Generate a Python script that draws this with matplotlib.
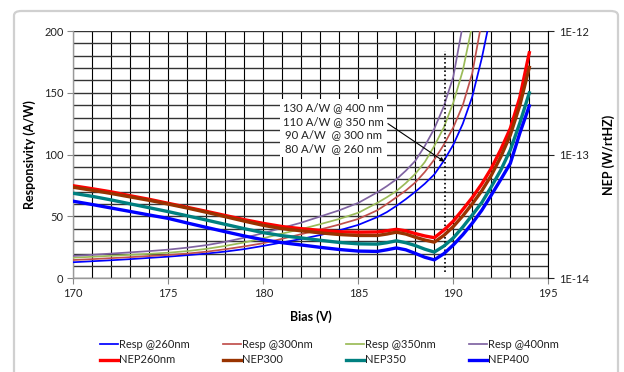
import matplotlib
matplotlib.use("Agg")
import matplotlib.pyplot as plt
from matplotlib.patches import FancyBboxPatch
from matplotlib.ticker import NullLocator, FixedLocator

plt.rcParams['font.family'] = ['Lato', 'DejaVu Sans']

# ---------------- data ----------------
bias_resp260 = [170, 171, 172, 173, 174, 175, 176, 177, 178, 179, 180, 181, 182, 183, 184, 185, 186, 186.5, 187, 187.5, 188, 188.5, 189, 189.5, 190, 190.5, 191, 191.5, 192]
resp260 = [13.0, 13.8, 14.6, 15.5, 16.5, 17.5, 18.7, 20.0, 21.6, 23.6, 26.2, 29.0, 31.8, 35.0, 38.8, 43.2, 49.5, 53.5, 58.5, 64.0, 70.0, 76.5, 84.0, 95.0, 108.0, 125.0, 147.0, 178.0, 215.0]

bias_resp300 = [170, 171, 172, 173, 174, 175, 176, 177, 178, 179, 180, 181, 182, 183, 184, 185, 186, 186.5, 187, 187.5, 188, 188.5, 189, 189.5, 190, 190.5, 191, 191.5]
resp300 = [14.8, 15.5, 16.3, 17.1, 18.0, 18.9, 20.0, 21.5, 23.5, 25.8, 28.4, 32.0, 35.7, 39.5, 43.5, 48.0, 55.0, 60.0, 65.5, 71.0, 77.5, 86.0, 96.0, 108.0, 122.0, 140.0, 166.0, 208.0]

bias_resp350 = [170, 171, 172, 173, 174, 175, 176, 177, 178, 179, 180, 181, 182, 183, 184, 185, 186, 186.5, 187, 187.5, 188, 188.5, 189, 189.5, 190, 190.5, 191]
resp350 = [16.7, 17.4, 18.2, 19.0, 19.8, 20.7, 22.0, 23.8, 26.2, 29.0, 32.4, 36.2, 39.8, 43.8, 48.0, 53.0, 61.0, 65.5, 70.5, 77.0, 84.5, 94.0, 107.0, 122.0, 142.0, 168.0, 205.0]

bias_resp400 = [170, 171, 172, 173, 174, 175, 176, 177, 178, 179, 180, 181, 182, 183, 184, 185, 186, 186.5, 187, 187.5, 188, 188.5, 189, 189.5, 190, 190.5]
resp400 = [18.1, 19.0, 20.0, 21.0, 22.0, 23.2, 24.8, 26.8, 29.5, 32.8, 36.5, 40.8, 45.0, 50.0, 55.0, 61.0, 69.5, 74.5, 80.0, 87.0, 95.0, 107.0, 121.0, 139.0, 163.0, 205.0]

bias_nep = [170, 171, 172, 173, 174, 175, 176, 177, 178, 179, 180, 181, 182, 183, 184, 185, 186, 186.5, 187, 187.5, 188, 188.5, 189, 189.5, 190, 190.5, 191, 191.5, 192, 192.5, 193, 193.5, 194]
nep260 = [5.6, 5.3, 5.0, 4.65, 4.35, 4.04, 3.75, 3.48, 3.22, 2.98, 2.78, 2.62, 2.52, 2.44, 2.38, 2.36, 2.37, 2.42, 2.49, 2.42, 2.30, 2.20, 2.13, 2.45, 2.9, 3.6, 4.5, 5.8, 7.75, 11.0, 16.3, 29.0, 66.7]
nep300 = [5.45, 5.15, 4.85, 4.55, 4.27, 3.98, 3.7, 3.42, 3.15, 2.9, 2.68, 2.52, 2.42, 2.33, 2.26, 2.22, 2.22, 2.28, 2.36, 2.28, 2.15, 2.04, 1.96, 2.22, 2.62, 3.2, 4.0, 5.1, 6.8, 9.6, 14.4, 25.0, 50.8]
nep350 = [4.87, 4.6, 4.3, 4.0, 3.72, 3.46, 3.2, 2.96, 2.73, 2.52, 2.34, 2.21, 2.12, 2.03, 1.95, 1.9, 1.89, 1.94, 2.01, 1.94, 1.84, 1.72, 1.63, 1.82, 2.12, 2.6, 3.25, 4.1, 5.5, 7.5, 10.9, 18.0, 31.6]
nep400 = [4.2, 3.95, 3.7, 3.47, 3.25, 3.05, 2.8, 2.58, 2.38, 2.2, 2.05, 1.94, 1.86, 1.78, 1.71, 1.66, 1.65, 1.70, 1.76, 1.70, 1.59, 1.48, 1.41, 1.58, 1.86, 2.25, 2.79, 3.55, 4.71, 6.3, 8.5, 14.9, 24.8]
nep_unit = 1e-14

resp_labels = ['Resp @260nm', 'Resp @300nm', 'Resp @350nm', 'Resp @400nm']
nep_labels = ['NEP260nm', 'NEP300', 'NEP350', 'NEP400']
resp_colors = ['#0000FF', '#C0504D', '#9BBB59', '#8064A2']
nep_colors = ['#FF0000', '#993300', '#008080', '#0000FF']

note_lines = ['130 A/W @ 400 nm', '110 A/W @ 350 nm', '90 A/W  @ 300 nm', '80 A/W  @ 260 nm']
note_pos = (183.7, 121.5)
marker_bias = 189.56
marker_range = [5.4, 183.8]
arrow_from = (186.56, 125.1)
arrow_to = (189.53, 94.3)

x_ticks = [170, 175, 180, 185, 190, 195]
y_ticks = [0, 50, 100, 150, 200]
nep_ticks = [1e-14, 1e-13, 1e-12]
nep_tick_labels = ['1E-14', '1E-13', '1E-12']

# ---------------- figure ----------------
W, H = 624, 372
fig = plt.figure(figsize=(W / 100, H / 100), dpi=100)
fig.patch.set_facecolor('white')

frame = FancyBboxPatch((14 / W, -0.05), (618 - 14) / W, 1 - 11 / H + 0.05,
                       boxstyle='round,pad=0,rounding_size=0.012',
                       transform=fig.transFigure, fill=False,
                       edgecolor='#D0D0D0', lw=1.6)
fig.patches.append(frame)

x0, x1 = 73.3, 548.3
y0, y1 = 31.0, 278.3
ax = fig.add_axes([x0 / W, 1 - y1 / H, (x1 - x0) / W, (y1 - y0) / H])
ax.set_xlim(170, 195)
ax.set_ylim(0, 200)
ax.set_xticks(x_ticks)
ax.xaxis.set_minor_locator(FixedLocator(list(range(170, 196))))
ax.set_yticks(y_ticks)
ax.yaxis.set_minor_locator(FixedLocator(list(range(0, 201, 10))))
ax.grid(which='both', axis='x', color='black', lw=0.8)
ax.grid(which='both', axis='y', color='#333333', lw=1.0)
ax.set_axisbelow(True)
ax.tick_params(which='major', direction='out', length=4, color='#888888',
               labelsize=8, labelcolor='#222222', pad=3)
ax.tick_params(which='minor', length=0)
for s in ['top', 'right']:
    ax.spines[s].set_visible(False)
for s in ['left', 'bottom']:
    ax.spines[s].set_color('#999999')
    ax.spines[s].set_linewidth(1.0)

resp_sets = [(bias_resp260, resp260), (bias_resp300, resp300),
             (bias_resp350, resp350), (bias_resp400, resp400)]
handles = []
for (bx, ry), c, lab in zip(resp_sets, resp_colors, resp_labels):
    h, = ax.plot(bx, ry, color=c, lw=1.25, label=lab, zorder=3)
    handles.append(h)

ax.plot([marker_bias, marker_bias], marker_range, color='black', lw=1.2,
        linestyle=(0, (1, 1.5)), zorder=3)

ax.text(note_pos[0], note_pos[1], '\n'.join(note_lines), fontsize=8.2, color='#222222',
        ha='center', va='center', linespacing=1.28, zorder=4,
        bbox=dict(boxstyle='square,pad=0.3', facecolor='white', edgecolor='none'))
ax.annotate('', xy=arrow_to, xytext=arrow_from, zorder=5,
            arrowprops=dict(arrowstyle='-|>', color='black', lw=0.8,
                            mutation_scale=6, shrinkA=0, shrinkB=0))

ax.set_xlabel('Bias (V)', fontsize=9, fontweight='bold', labelpad=8)
ax.set_ylabel('Responsivity (A/W)', fontsize=9, fontweight='bold', labelpad=6)

ax2 = ax.twinx()
ax2.set_yscale('log')
ax2.set_ylim(1e-14, 1e-12)
ax2.yaxis.set_major_locator(FixedLocator(nep_ticks))
ax2.set_yticklabels(nep_tick_labels)
ax2.yaxis.set_minor_locator(NullLocator())
ax2.tick_params(which='major', direction='out', length=4, color='#222222',
                labelsize=8, labelcolor='#222222', pad=4)
for s in ['top', 'left', 'bottom']:
    ax2.spines[s].set_visible(False)
ax2.spines['right'].set_color('black')
ax2.spines['right'].set_linewidth(0.8)

nep_sets = [nep260, nep300, nep350, nep400]
nep_handles = []
for ny, c, lab in zip(nep_sets, nep_colors, nep_labels):
    h, = ax2.plot(bias_nep, [v * nep_unit for v in ny], color=c, lw=2.4,
                  label=lab, zorder=3)
    nep_handles.append(h)
ax2.set_ylabel('NEP (W/rtHZ)', fontsize=9, fontweight='bold', labelpad=9)

leg_h, leg_l = [], []
for rh, nh in zip(handles, nep_handles):
    leg_h += [rh, nh]
    leg_l += [rh.get_label(), nh.get_label()]
fig.legend(leg_h, leg_l, ncol=4, loc='upper left',
           bbox_to_anchor=(100 / W, 1 - 339 / H), frameon=False,
           fontsize=8, handlelength=1.65, handletextpad=0.05,
           columnspacing=3.0, labelspacing=0.4, borderaxespad=0,
           borderpad=0, labelcolor='#222222')

fig.savefig('out.png', dpi=100)
